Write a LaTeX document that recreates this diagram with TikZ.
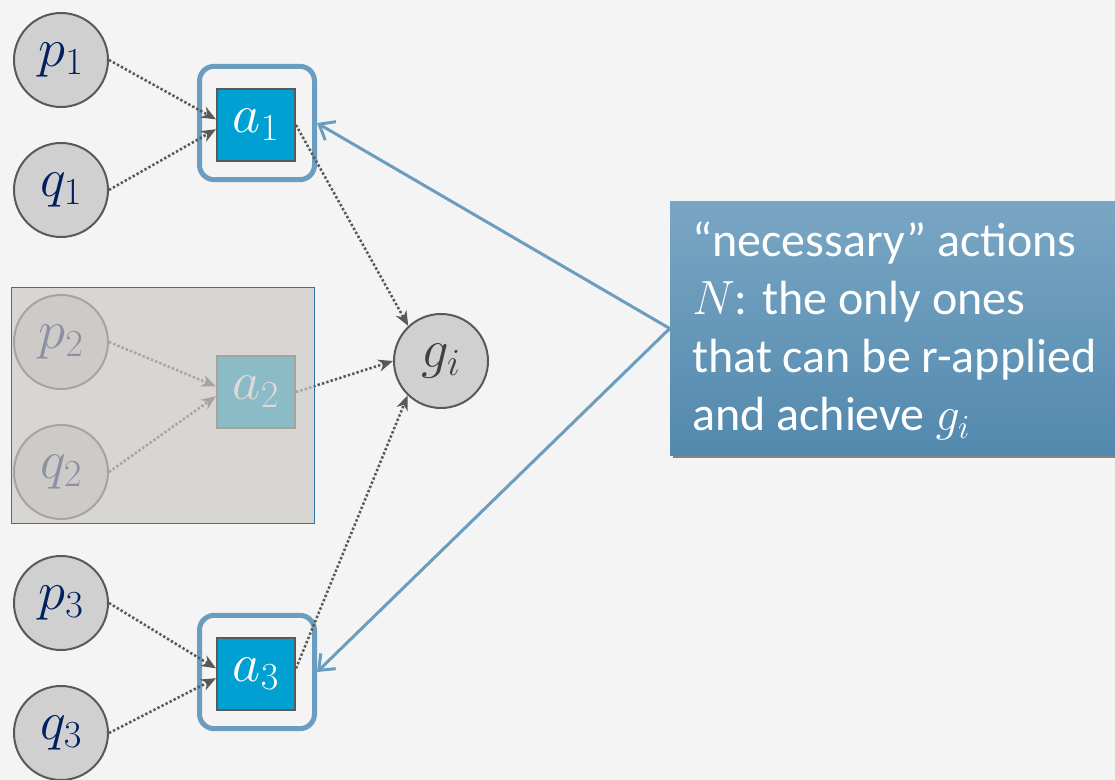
\documentclass[tikz,border=0pt]{standalone}
\usepackage{fix-cm}
\usepackage{fontspec}
\newfontfamily\calfont{Carlito}
\usetikzlibrary{arrows.meta,shadows}
\definecolor{bgc}{RGB}{244,244,244}
\definecolor{circfill}{RGB}{208,208,208}
\definecolor{darkline}{RGB}{89,89,89}
\definecolor{navy}{RGB}{0,32,96}
\definecolor{actblue}{RGB}{0,160,210}
\definecolor{frameblue}{RGB}{107,157,192}
\definecolor{veil}{RGB}{204,200,195}
\definecolor{veilborder}{RGB}{46,117,166}
\definecolor{calltop}{RGB}{122,166,196}
\definecolor{callbot}{RGB}{82,137,173}
\definecolor{gtext}{RGB}{64,64,64}
\tikzset{
  prop/.style={circle, draw=darkline, fill=circfill, line width=1.5pt, minimum size=70.5pt, inner sep=0pt,
    text=navy, font=\fontsize{41}{44}\selectfont},
  goal/.style={prop, text=gtext},
  act/.style={rectangle, draw=darkline, fill=actblue, line width=1.5pt, minimum width=58.5pt, minimum height=54pt,
    inner sep=0pt, text=white, font=\fontsize{41}{44}\selectfont},
  actframe/.style={rectangle, rounded corners=11pt, draw=frameblue, line width=3.75pt, minimum width=86.25pt,
    minimum height=85pt, inner sep=0pt},
  dotarr/.style={draw=darkline, line width=1.9pt, dash pattern=on 1.8pt off 1.6pt,
    -{Stealth[length=11pt,width=9pt,inset=3.5pt]}},
  callarr/.style={draw=frameblue, line width=2.25pt, -{Straight Barb[length=10pt,width=16pt]}},
  callout/.style={rectangle, inner sep=0pt, minimum width=336pt, minimum height=190pt,
    top color=calltop, bottom color=callbot, draw=none,
    drop shadow={shadow xshift=2pt, shadow yshift=-2.5pt, opacity=0.45, fill=black}},
  calltext/.style={text=white, align=left, inner sep=0pt,
    font=\calfont\fontsize{36}{43.5}\selectfont}
}
\begin{document}
\begin{tikzpicture}[x=0.75pt,y=-0.75pt]
\fill[bgc] (0,0) rectangle (1115,780);
\useasboundingbox (0,0) rectangle (1115,780);

% nodes
\node[prop] (p1) at (61,60) {$p_1$};
\node[prop] (q1) at (61,190) {$q_1$};
\node[prop] (p2) at (61,342) {$p_2$};
\node[prop] (q2) at (61,472) {$q_2$};
\node[prop] (p3) at (61,603) {$p_3$};
\node[prop] (q3) at (61,733) {$q_3$};

\node[actframe] (a1o) at (257,123) {};
\node[actframe] (a3o) at (257,672) {};
\node[act] (a1) at (256,125) {$a_1$};
\node[act] (a2) at (256,392) {$a_2$};
\node[act] (a3) at (256,674) {$a_3$};

\node[goal] (g) at (441,361) {$g_i$};

% dotted arrows
\draw[dotarr] (p1.east) -- (a1.172);
\draw[dotarr] (q1.east) -- (a1.186);
\draw[dotarr] (p2.east) -- (a2.172);
\draw[dotarr] (q2.east) -- (a2.186);
\draw[dotarr] (p3.east) -- (a3.172);
\draw[dotarr] (q3.east) -- (a3.186);
\draw[dotarr] (a1.east) -- (g.133);
\draw[dotarr] (a2.east) -- (g.west);
\draw[dotarr] (a3.8) -- (g.226);

% veil over the irrelevant part
\node[rectangle, draw=veilborder, line width=0.75pt, fill=veil, fill opacity=0.68,
  minimum width=227.25pt, minimum height=177pt, inner sep=0pt] (veilbox) at (162.5,406) {};

% callout
\node[callout] (call) at (894,328.5) {};
\node[calltext, anchor=base west] (calltxt) at (692,431)
  {“necessary” actions\\ $N$: the only ones\\ that can be r-applied\\ and achieve $g_i$};

\draw[callarr] (call.west) -- (a1o.east);
\draw[callarr] (call.west) -- (a3o.east);
\end{tikzpicture}
\end{document}
